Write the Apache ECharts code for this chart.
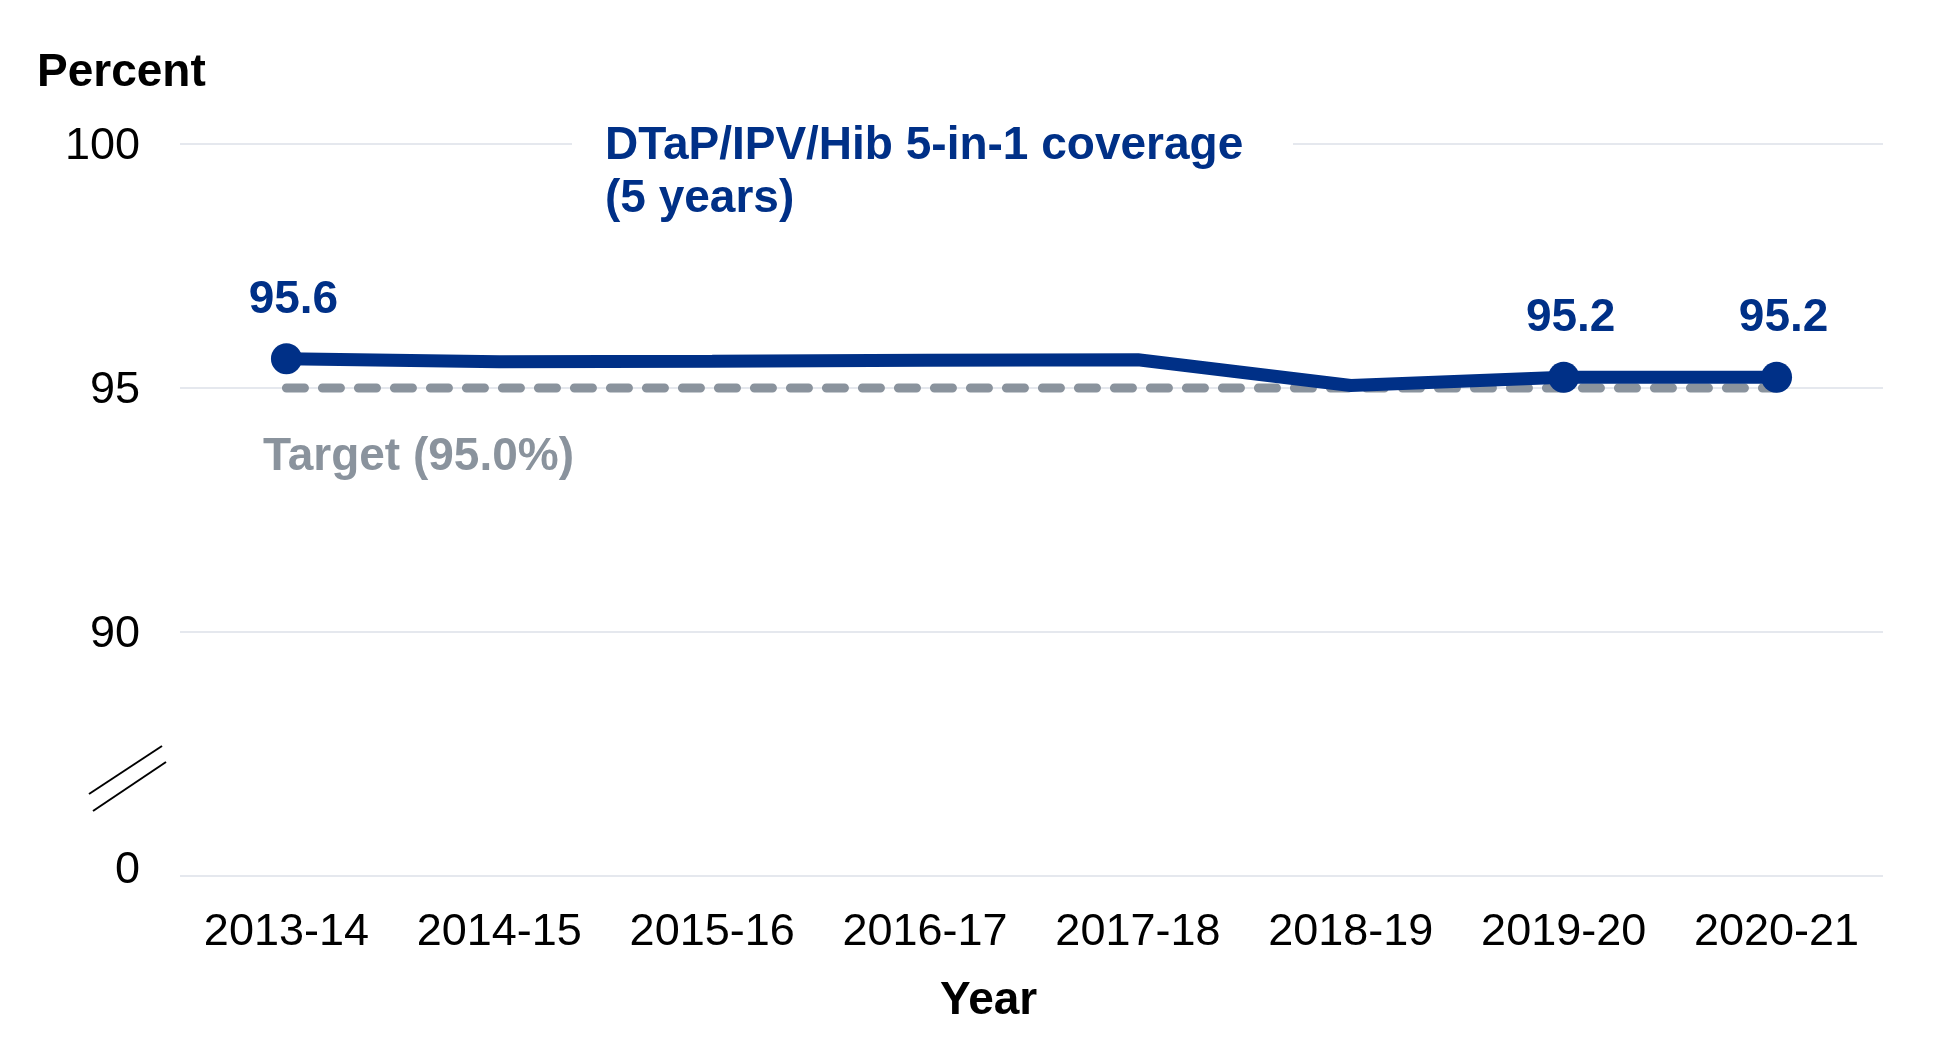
<!DOCTYPE html>
<html>
<head>
<meta charset="UTF-8">
<title>DTaP/IPV/Hib 5-in-1 coverage</title>
<script src="https://cdn.jsdelivr.net/npm/echarts@6/dist/echarts.min.js"></script>
<style>
    html, body { margin: 0; padding: 0; background: #fff; }
    #main { width: 1949px; height: 1053px; }
</style>
</head>
<body>
<div id="main"></div>
<script type="text/javascript">
    // data
    var years = ['2013-14', '2014-15', '2015-16', '2016-17', '2017-18', '2018-19', '2019-20', '2020-21'];
    var coverage = [95.6, 95.54, 95.55, 95.57, 95.58, 95.05, 95.22, 95.22];
    var target = [95, 95, 95, 95, 95, 95, 95, 95];
    var labelled = [0, 6, 7];   // points with marker + value label
    var yTicks = [85, 90, 95, 100];  // 85 sits where the broken axis shows 0

    var blue = '#003087';
    var grey = '#8a939d';
    var font = "'Liberation Sans', Arial, sans-serif";

    var myChart = echarts.init(document.getElementById('main'));

    var lineData = coverage.map(function (v, i) {
        var on = labelled.indexOf(i) >= 0;
        return {
            value: v,
            symbolSize: on ? 31 : 0,
            label: { show: on }
        };
    });

    var option = {
        backgroundColor: '#fff',
        animation: false,
        grid: { left: 180, right: 66, top: 144, bottom: 177 },
        xAxis: {
            type: 'category',
            data: years,
            boundaryGap: true,
            axisLine: { show: false },
            axisTick: { show: false },
            axisLabel: { interval: 0, color: '#000', fontFamily: font, fontSize: 45, margin: 34 }
        },
        yAxis: {
            type: 'value',
            min: yTicks[0],
            max: yTicks[yTicks.length - 1],
            interval: 5,
            axisLine: { show: false },
            axisTick: { show: false },
            splitLine: { lineStyle: { color: '#dde1e8', width: 1.5 } },
            axisLabel: {
                color: '#000', fontFamily: font, fontSize: 45, margin: 40,
                formatter: function (v) { return v === yTicks[0] ? '{z|0}' : '{n|' + v + '}'; },
                rich: {
                    z: { fontSize: 45, fontFamily: font, color: '#000', padding: [0, 0, 11, 0] },
                    n: { fontSize: 45, fontFamily: font, color: '#000', padding: [5, 0, 0, 0] }
                }
            }
        },
        series: [
            {
                name: 'Target',
                type: 'line',
                data: target,
                symbol: 'none',
                z: 2,
                lineStyle: { color: grey, width: 9, type: [18, 18], cap: 'round' }
            },
            {
                name: 'Coverage',
                type: 'line',
                data: lineData,
                symbol: 'circle',
                z: 3,
                itemStyle: { color: blue },
                lineStyle: { color: blue, width: 13 },
                label: {
                    position: 'top',
                    distance: 20,
                    offset: [7, 0],
                    color: blue,
                    fontFamily: font,
                    fontSize: 46,
                    fontWeight: 'bold',
                    formatter: function (p) { return p.value.toFixed(1); }
                }
            }
        ],
        graphic: [
            {
                type: 'text', left: 37, top: 50,
                style: { text: 'Percent', fill: '#000', font: 'bold 46px ' + font }
            },
            {
                type: 'rect', left: 572, top: 134, z: 10,
                shape: { width: 721, height: 20 },
                style: { fill: '#fff' }
            },
            {
                type: 'text', left: 605, top: 120, z: 11,
                style: {
                    text: 'DTaP/IPV/Hib 5-in-1 coverage\n(5 years)',
                    fill: blue, font: 'bold 46px ' + font, lineHeight: 53
                }
            },
            {
                type: 'text', left: 263, top: 434,
                style: { text: 'Target (95.0%)', fill: grey, font: 'bold 46px ' + font }
            },
            {
                type: 'text', left: 940, top: 978,
                style: { text: 'Year', fill: '#000', font: 'bold 46px ' + font }
            },
            // axis break marks
            {
                type: 'line', z: 10,
                shape: { x1: 89, y1: 794, x2: 162, y2: 746 },
                style: { stroke: '#000', lineWidth: 2 }
            },
            {
                type: 'line', z: 10,
                shape: { x1: 93, y1: 811, x2: 166, y2: 762 },
                style: { stroke: '#000', lineWidth: 2 }
            }
        ]
    };

    myChart.setOption(option);
</script>
</body>
</html>
